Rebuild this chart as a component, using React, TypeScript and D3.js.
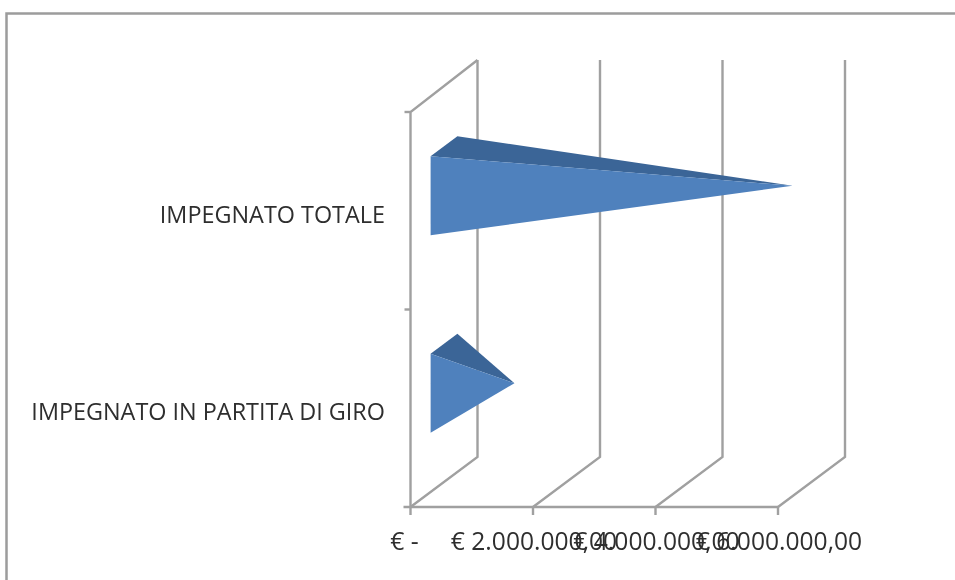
import React from "react";
import * as d3 from "d3";

const categories = ["IMPEGNATO TOTALE", "IMPEGNATO IN PARTITA DI GIRO"];
const values = [5690000, 1150000];
const tickValues = [0, 2000000, 4000000, 6000000];
const tickLabels = ["€ -", "€ 2.000.000,00", "€ 4.000.000,00", "€ 6.000.000,00"];

const W = 955, H = 580;
const DX = 67, DY = -50;
const x = d3.scaleLinear().domain([0, 6000000]).range([410.5, 778]);
const y = d3.scaleBand<string>().domain(categories).range([112, 507]);
const grid = "#a0a0a0";
const font = "'Open Sans', 'Noto Sans', sans-serif";
const at = (v: number, band: number, depth: number): [number, number] => [x(v) + DX * depth, band + DY * depth];
const poly = (pts: [number, number][]) => d3.line()(pts) + "Z";

export default function App() {
  const step = y.step();
  return (
    <svg width={W} height={H} viewBox={`0 0 ${W} ${H}`} style={{ position: "fixed", left: 0, top: 0, background: "#fff" }}>
      <defs>
        <filter id="soft" x="0" y="0" width="100%" height="100%"><feGaussianBlur stdDeviation="0.7" /></filter>
      </defs>
      <g filter="url(#soft)">
        <rect x={0} y={0} width={W} height={H} fill="#fff" />
        <path d={`M6.5,${H}V13.5H${W}`} fill="none" stroke="#9c9c9c" strokeWidth={2.5} />
        <g fill="none" stroke={grid} strokeWidth={2.4}>
          {tickValues.map((t) => (
            <g key={t}>
              <path d={d3.line()([[x(t), 507], at(t, 507, 1), [x(t) + DX, 60]])!} />
              <line x1={x(t)} x2={x(t)} y1={507} y2={515} />
            </g>
          ))}
          <line x1={x(0) - 7} x2={x(6000000)} y1={507} y2={507} />
          <path d={d3.line()([[x(0), 507], [x(0), 112], [x(0) + DX, 60]])!} />
          {[112, 112 + step].map((p) => <line key={p} x1={x(0) - 6} x2={x(0)} y1={p} y2={p} />)}
        </g>
        {categories.map((c, i) => {
          const cy = y(c)! + step / 2;
          const half = 39.5;
          const tip = at(values[i], cy, 0.5);
          const fTop = at(0, cy - half, 0.3);
          const fBot = at(0, cy + half, 0.3);
          const bTop = at(0, cy - half, 0.7);
          return (
            <g key={c}>
              <path d={poly([fTop, bTop, tip])} fill="#3b6597" />
              <path d={poly([fTop, tip, fBot])} fill="#4f81bd" />
              <text x={385} y={cy + 12} textAnchor="end" fontFamily={font} fontSize={23.4} fill="#2e2e2e">{c}</text>
            </g>
          );
        })}
        {tickValues.map((t, i) => (
          <text key={t} x={i === 0 ? x(t) - 6 : x(t) + 1} y={550} textAnchor="middle" fontFamily={font} fontSize={24.6} fill="#2e2e2e">{tickLabels[i]}</text>
        ))}
      </g>
    </svg>
  );
}
